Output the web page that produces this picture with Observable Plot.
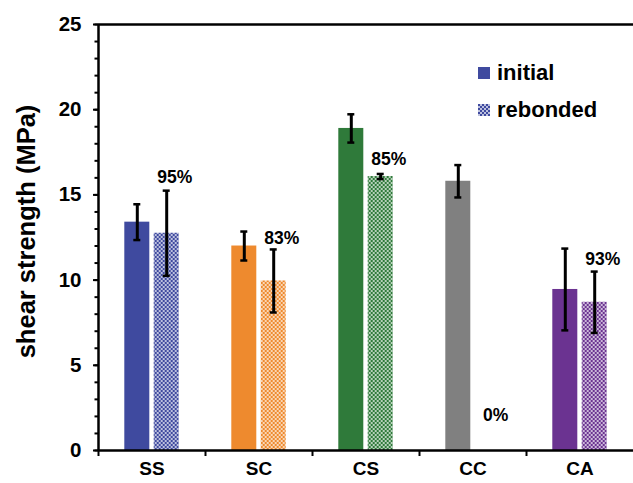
<!DOCTYPE html>
<html>
<head>
<meta charset="utf-8">
<script src="https://cdn.jsdelivr.net/npm/d3@7"></script>
<script src="https://cdn.jsdelivr.net/npm/@observablehq/plot@0.6"></script>
<style>
  html, body { margin: 0; padding: 0; background: #fff; }
  #wrap { position: relative; width: 633px; height: 483px; font-family: "Liberation Sans", Arial, sans-serif; }
  #legend { position: absolute; left: 478px; top: 60px; font-weight: bold; font-size: 22px; color: #000; }
  #legend .row { display: flex; align-items: center; height: 25px; margin-bottom: 12px; }
  #legend .sw { width: 12px; height: 12px; margin-right: 7px; }
</style>
</head>
<body>
<div id="wrap"></div>
<script>
const categories = ["SS", "SC", "CS", "CC", "CA"];
const colors = ["#3f4a9f", "#ee8a2e", "#2f7a3a", "#808080", "#6b3391"];
const initialValues = [13.4, 12.0, 18.9, 15.8, 9.45];
const initialErrors = [1.05, 0.85, 0.83, 0.95, 2.4];
const rebondedValues = [12.75, 9.95, 16.08, 0, 8.7];
const rebondedErrors = [2.5, 1.85, 0.15, 0, 1.8];
const percentLabels = ["95%", "83%", "85%", "0%", "93%"];
const percentLabelY = [16.0, 12.45, 17.1, 2.05, 11.2];
const yMajorTicks = [0, 5, 10, 15, 20, 25];
const yMinorTicks = d3.range(0, 26);

const initial = categories.map((c, i) => ({cat: c, value: initialValues[i], err: initialErrors[i], color: colors[i]}));
const rebonded = categories.map((c, i) => ({cat: c, value: rebondedValues[i], err: rebondedErrors[i], color: `url(#chk-${c})`, label: percentLabels[i], ly: percentLabelY[i]}));
const rebondedErr = rebonded.filter(d => d.err > 0);

const off = 14.7;
const barInset = (107 - 25) / 2;
const capInset = (107 - 7) / 2;
const font = "'Liberation Sans', Arial, sans-serif";

const chart = Plot.plot({
  width: 633,
  height: 483,
  marginLeft: 98,
  marginRight: 0,
  marginTop: 24,
  marginBottom: 33,
  style: {fontFamily: font, background: "#fff"},
  x: {domain: categories, padding: 0, axis: null},
  y: {domain: [0, 25], axis: null},
  color: {type: "identity"},
  marks: [
    Plot.barY(initial, {x: "cat", y: "value", fill: "color", insetLeft: barInset, insetRight: barInset, dx: -off}),
    Plot.barY(rebonded, {x: "cat", y: "value", fill: "color", insetLeft: barInset, insetRight: barInset, dx: off}),
    Plot.ruleX(initial, {x: "cat", y1: d => d.value - d.err, y2: d => d.value + d.err, dx: -off, stroke: "#000", strokeWidth: 3}),
    Plot.tickY(initial, {x: "cat", y: d => d.value + d.err, dx: -off, insetLeft: capInset, insetRight: capInset, stroke: "#000", strokeWidth: 2.5}),
    Plot.tickY(initial, {x: "cat", y: d => d.value - d.err, dx: -off, insetLeft: capInset, insetRight: capInset, stroke: "#000", strokeWidth: 2.5}),
    Plot.ruleX(rebondedErr, {x: "cat", y1: d => d.value - d.err, y2: d => d.value + d.err, dx: off, stroke: "#000", strokeWidth: 3}),
    Plot.tickY(rebondedErr, {x: "cat", y: d => d.value + d.err, dx: off, insetLeft: capInset, insetRight: capInset, stroke: "#000", strokeWidth: 2.5}),
    Plot.tickY(rebondedErr, {x: "cat", y: d => d.value - d.err, dx: off, insetLeft: capInset, insetRight: capInset, stroke: "#000", strokeWidth: 2.5}),
    Plot.text(rebonded, {x: "cat", y: "ly", text: "label", dx: off + 8, fontSize: 17.5, fontWeight: "bold", fill: "#000", lineAnchor: "middle"}),
    // axes
    Plot.axisY({ticks: yMinorTicks, tickSize: 3.5, tickFormat: null, text: null, stroke: "#000", strokeWidth: 2}),
    Plot.axisY({ticks: yMajorTicks, tickSize: 5, tickPadding: 12, fontSize: 20.5, fontWeight: "bold", stroke: "#000", strokeWidth: 2, label: null, fill: "#000"}),
    Plot.axisX({tickSize: 6, text: null, dx: -53.5, stroke: "#000", strokeWidth: 2, label: null}),
    Plot.axisX({tickSize: 0, tickPadding: 11, fontSize: 19, fontWeight: "bold", label: null, fill: "#000"}),
    Plot.ruleY([0, 25], {stroke: "#000", strokeWidth: 2.5}),
    Plot.ruleX(["SS"], {dx: -53.5, stroke: "#000", strokeWidth: 2.5}),
    Plot.text(["shear strength (MPa)"], {frameAnchor: "left", textAnchor: "middle", dx: -72, dy: -6, rotate: -90, fontSize: 25.5, fontWeight: "bold", fill: "#000", text: d => d})
  ]
});

// checker patterns for the rebonded bars
const ns = "http://www.w3.org/2000/svg";
const defs = document.createElementNS(ns, "defs");
function addPattern(id, color) {
  const p = document.createElementNS(ns, "pattern");
  p.setAttribute("id", id);
  p.setAttribute("patternUnits", "userSpaceOnUse");
  p.setAttribute("width", "4");
  p.setAttribute("height", "4");
  const bg = document.createElementNS(ns, "rect");
  bg.setAttribute("width", "4"); bg.setAttribute("height", "4");
  bg.setAttribute("fill", color); bg.setAttribute("fill-opacity", "0.35");
  p.appendChild(bg);
  for (const [x, y] of [[0, 0], [2, 2]]) {
    const r = document.createElementNS(ns, "rect");
    r.setAttribute("x", x); r.setAttribute("y", y);
    r.setAttribute("width", "2"); r.setAttribute("height", "2");
    r.setAttribute("fill", color);
    p.appendChild(r);
  }
  defs.appendChild(p);
}
categories.forEach((c, i) => addPattern(`chk-${c}`, colors[i]));
addPattern("chk-legend", colors[0]);
chart.insertBefore(defs, chart.firstChild);

const wrap = document.getElementById("wrap");
wrap.appendChild(chart);

const legend = document.createElement("div");
legend.id = "legend";
legend.innerHTML = `
  <div class="row"><svg class="sw" width="12" height="12"><rect width="12" height="12" fill="${colors[0]}"/></svg><span>initial</span></div>
  <div class="row"><svg class="sw" width="12" height="12"><rect width="12" height="12" fill="url(#chk-legend)"/></svg><span>rebonded</span></div>`;
wrap.appendChild(legend);
</script>
</body>
</html>
